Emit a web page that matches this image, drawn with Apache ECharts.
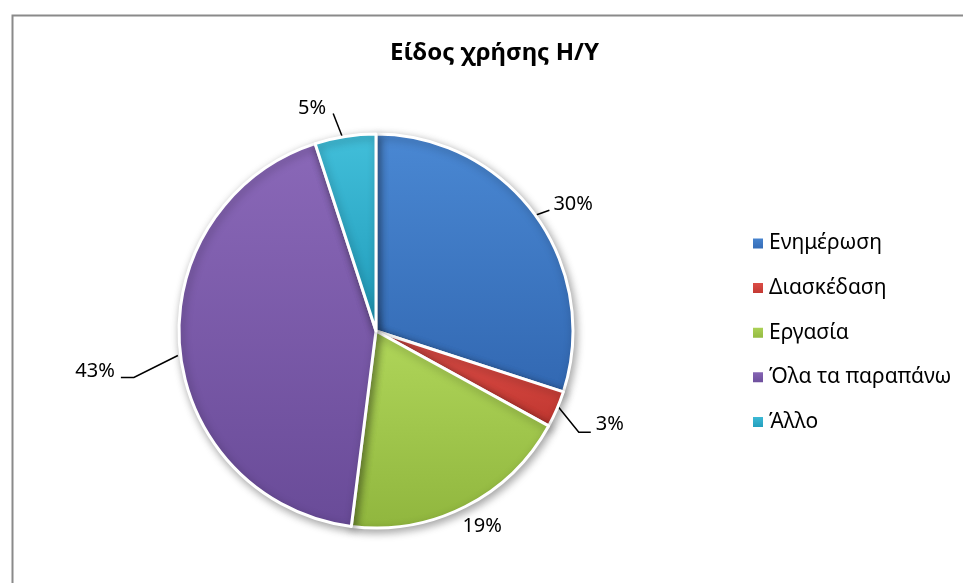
<!DOCTYPE html>
<html>
<head>
<meta charset="utf-8">
<script src="https://cdn.jsdelivr.net/npm/echarts@6/dist/echarts.min.js"></script>
<style>
html,body{margin:0;padding:0;background:#fff;}
#chart{width:963px;height:583px;}
</style>
</head>
<body>
<div id="chart"></div>
<script>
// ---- data ----
const titleText = 'Είδος χρήσης Η/Υ';
const categories = ['Ενημέρωση', 'Διασκέδαση', 'Εργασία', 'Όλα τα παραπάνω', 'Άλλο'];
const values = [30, 3, 19, 43, 5];

// ---- styles ----
const colorStops = [
  ['#4A88D3', '#3268B2'],
  ['#E0504A', '#BF362F'],
  ['#B0D65A', '#90B63E'],
  ['#8A68B8', '#694B98'],
  ['#42BFDA', '#1F9AB9']
];
// label placement offsets relative to the slice's edge anchor (style only)
const labelTweaks = [
  {align: 'left',  text: [18, -11], line: [[0, 0], [14, -5]]},
  {align: 'left',  text: [39, 15],  line: [[1, -3], [22, 23], [34, 23]]},
  null,
  {align: 'right', text: [-65, 22], line: [[-2, 6], [-46, 28], [-59, 28]]},
  {align: 'right', text: [-19, -28], line: [[-3, 0], [-12, -23]]}
];

const FONT = '"Noto Sans", "Open Sans", sans-serif';

const seriesData = categories.map((name, i) => ({
  name: name,
  value: values[i],
  itemStyle: {
    color: {
      type: 'linear', x: 0, y: 0, x2: 0, y2: 1,
      colorStops: [{offset: 0, color: colorStops[i][0]}, {offset: 1, color: colorStops[i][1]}]
    }
  },
  labelLine: labelTweaks[i] ? {show: true, length: 10, length2: 10}
                            : {show: false, length: 22, length2: -18}
}));

const chart = echarts.init(document.getElementById('chart'), null, {renderer: 'canvas'});
chart.setOption({
  backgroundColor: '#ffffff',
  animation: false,
  graphic: [{
    type: 'rect', left: 10, top: 13,
    shape: {width: 1000, height: 1000},
    style: {fill: null, stroke: '#8a8a8a', lineWidth: 2},
    silent: true
  }],
  title: {
    text: titleText,
    left: 385, top: 36,
    textStyle: {fontFamily: FONT, fontSize: 24, fontWeight: 'bold', color: '#000'}
  },
  legend: {
    orient: 'vertical',
    left: 746, top: 228,
    itemWidth: 12, itemHeight: 12,
    itemGap: 23.6,
    icon: 'rect',
    data: categories,
    textStyle: {fontFamily: FONT, fontSize: 21, lineHeight: 21, color: '#000'}
  },
  series: [{
    type: 'pie',
    center: [376, 331],
    radius: 197,
    startAngle: 90,
    clockwise: true,
    avoidLabelOverlap: false,
    itemStyle: {
      borderColor: '#ffffff',
      borderWidth: 3,
      shadowBlur: 8,
      shadowColor: 'rgba(0,0,0,0.35)',
      shadowOffsetX: 2,
      shadowOffsetY: 3
    },
    label: {
      show: true,
      position: 'outside',
      fontFamily: FONT,
      fontSize: 20,
      color: '#000',
      formatter: p => Math.round(p.percent) + '%'
    },
    labelLine: {
      lineStyle: {color: '#000', width: 1.5}
    },
    labelLayout: function (p) {
      const t = labelTweaks[p.dataIndex];
      if (!t || !p.labelLinePoints) return {};
      const e = p.labelLinePoints[0];
      return {
        x: e[0] + t.text[0],
        y: e[1] + t.text[1],
        align: t.align,
        verticalAlign: 'middle',
        labelLinePoints: t.line.map(o => [e[0] + o[0], e[1] + o[1]])
      };
    },
    emphasis: {disabled: true},
    data: seriesData
  }]
});
</script>
</body>
</html>
